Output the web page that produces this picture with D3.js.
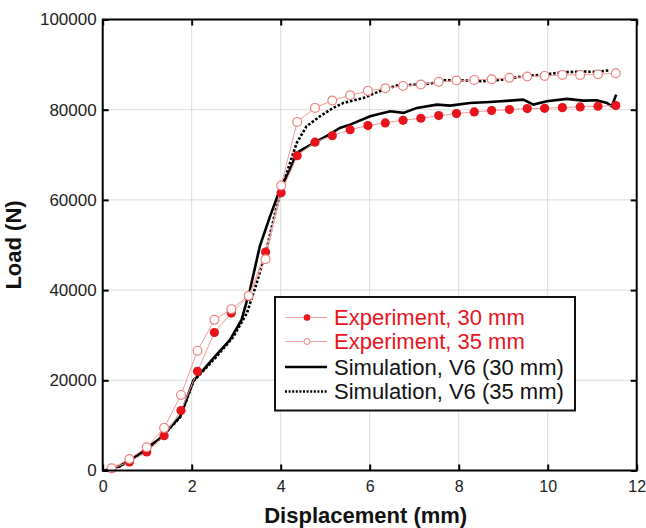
<!DOCTYPE html>
<html>
<head>
<meta charset="utf-8">
<script src="https://cdn.jsdelivr.net/npm/d3@7"></script>
<style>
  body { margin: 0; background: #fff; }
  svg { display: block; font-family: "Liberation Sans", Arial, sans-serif; }
</style>
</head>
<body>
<div id="chart"></div>
<script>
// experiment sample positions (mm), shared by both specimens
const dispExp = [0.2, 0.6, 0.99, 1.38, 1.76, 2.13, 2.51, 2.89, 3.28, 3.66, 4.01, 4.37, 4.77, 5.16, 5.56,
  5.96, 6.35, 6.75, 7.15, 7.55, 7.95, 8.35, 8.74, 9.14, 9.54, 9.93, 10.33, 10.73, 11.13, 11.53];
const load30 = [400, 1900, 4100, 7700, 13300, 22000, 30600, 34900, 38600, 48450, 61600, 69800, 72800, 74250, 75580,
  76470, 77070, 77650, 78100, 78690, 79140, 79510, 79800, 80020, 80240, 80310, 80460, 80620, 80760, 80910];
const load35 = [500, 2550, 5150, 9450, 16760, 26570, 33400, 35780, 38750, 46850, 63200, 77300, 80400, 82050, 83200,
  84170, 84760, 85280, 85570, 86170, 86460, 86610, 86750, 87060, 87350, 87500, 87720, 87720, 87860, 88080];

// simulation curves
const sim30X = [0.05, 0.39, 0.84, 1.29, 1.74, 2.04, 2.26, 2.49, 2.86, 3.12, 3.31, 3.53, 3.76, 3.98, 4.21, 4.36, 4.51,
  4.81, 5.11, 5.33, 5.56, 6.01, 6.46, 6.76, 7.06, 7.51, 7.81, 8.25, 8.70, 9.15, 9.45, 9.68, 9.98, 10.43, 10.80,
  11.10, 11.33, 11.44, 11.54];
const sim30Y = [0, 1000, 3800, 7150, 11950, 20000, 22300, 24900, 28970, 33400, 40070, 49680, 56340, 62260, 66700,
  70400, 71300, 72980, 74600, 75960, 76690, 78530, 79650, 79290, 80400, 81130, 80910, 81500, 81720, 82020, 82240,
  81130, 81870, 82390, 82020, 82090, 81500, 80760, 83350];
const sim35X = [0.05, 0.39, 0.84, 1.29, 1.74, 2.04, 2.26, 2.56, 2.94, 3.24, 3.46, 3.68, 3.91, 4.06, 4.21, 4.36, 4.58,
  4.88, 5.18, 5.41, 5.86, 6.31, 6.61, 7.06, 7.36, 7.65, 8.10, 8.55, 9.00, 9.45, 9.90, 10.35, 10.80, 11.10, 11.40];
const sim35Y = [0, 950, 3700, 7050, 11800, 19800, 22100, 25260, 29700, 34890, 41550, 48950, 58560, 63750, 68190,
  72630, 76310, 78530, 80400, 81500, 82610, 84460, 85340, 85570, 85790, 86530, 86530, 86310, 86680, 87420, 87790,
  88300, 88460, 88380, 88750];

const xTicks = [0, 2, 4, 6, 8, 10, 12];
const yTicks = [0, 20000, 40000, 60000, 80000, 100000];
const legendLabels = ["Experiment, 30 mm", "Experiment, 35 mm", "Simulation, V6 (30 mm)", "Simulation, V6 (35 mm)"];

const W = 646, H = 528;
const pLeft = 102.7, pRight = 636.7, pTop = 19.5, pBottom = 470.5;
const red = "#e8141c", pink = "#f29b9b";

const svg = d3.select("#chart").append("svg").attr("width", W).attr("height", H);

const x = d3.scaleLinear().domain([0, 12]).range([pLeft, pRight]);
const y = d3.scaleLinear().domain([0, 100000]).range([pBottom, pTop]);

// grid
const grid = svg.append("g").attr("stroke", "#dcdcdc").attr("stroke-width", 1);
grid.selectAll(".gx").data(xTicks.slice(1, -1)).enter().append("line")
  .attr("x1", d => x(d)).attr("x2", d => x(d)).attr("y1", pTop).attr("y2", pBottom);
grid.selectAll(".gy").data(yTicks.slice(1, -1)).enter().append("line")
  .attr("y1", d => y(d)).attr("y2", d => y(d)).attr("x1", pLeft).attr("x2", pRight);

// axes, ticks pointing inward
const xAxis = d3.axisBottom(x).tickValues(xTicks).tickSize(-6).tickPadding(10.5).tickFormat(d3.format("d"));
const yAxis = d3.axisLeft(y).tickValues(yTicks).tickSize(-6).tickPadding(6).tickFormat(d3.format("d"));

const gx = svg.append("g").attr("transform", `translate(0,${pBottom})`).call(xAxis);
const gy = svg.append("g").attr("transform", `translate(${pLeft},0)`).call(yAxis);
const gt = svg.append("g").attr("transform", `translate(0,${pTop})`)
  .call(d3.axisTop(x).tickValues(xTicks).tickSize(-6).tickFormat(""));
const gr = svg.append("g").attr("transform", `translate(${pRight},0)`)
  .call(d3.axisRight(y).tickValues(yTicks).tickSize(-6).tickFormat(""));

[gx, gy, gt, gr].forEach(g => {
  g.select(".domain").remove();
  g.selectAll(".tick line").attr("stroke", "#000").attr("stroke-width", 2);
});
gx.selectAll("text").attr("font-size", 16).attr("fill", "#222").attr("font-family", "Liberation Sans, Arial, sans-serif");
gy.selectAll("text").attr("font-size", 17).attr("fill", "#222").attr("font-family", "Liberation Sans, Arial, sans-serif");

// simulation curves
const simLine = d3.line().x(d => x(d[0])).y(d => y(d[1]));
svg.append("path").datum(sim35X.map((v, i) => [v, sim35Y[i]]))
  .attr("d", simLine).attr("fill", "none").attr("stroke", "#000")
  .attr("stroke-width", 2.6).attr("stroke-dasharray", "2.6,1.8");
svg.append("path").datum(sim30X.map((v, i) => [v, sim30Y[i]]))
  .attr("d", simLine).attr("fill", "none").attr("stroke", "#000").attr("stroke-width", 2.6);

// experiments
const exp30 = dispExp.map((v, i) => [v, load30[i]]);
const exp35 = dispExp.map((v, i) => [v, load35[i]]);
svg.append("path").datum(exp30).attr("d", simLine).attr("fill", "none").attr("stroke", pink).attr("stroke-width", 1);
svg.append("path").datum(exp35).attr("d", simLine).attr("fill", "none").attr("stroke", pink).attr("stroke-width", 1);

svg.append("g").selectAll("circle").data(exp30).enter().append("circle")
  .attr("cx", d => x(d[0])).attr("cy", d => y(d[1])).attr("r", 4.6).attr("fill", red);
svg.append("g").selectAll("circle").data(exp35).enter().append("circle")
  .attr("cx", d => x(d[0])).attr("cy", d => y(d[1])).attr("r", 4.4)
  .attr("fill", "#fff").attr("stroke", "#ee7f7f").attr("stroke-width", 1.2);

// frame
svg.append("rect").attr("x", pLeft).attr("y", pTop).attr("width", pRight - pLeft).attr("height", pBottom - pTop)
  .attr("fill", "none").attr("stroke", "#000").attr("stroke-width", 2);

// axis titles
svg.append("text").attr("x", (pLeft + pRight) / 2 - 4).attr("y", 523).attr("text-anchor", "middle")
  .attr("font-size", 22).attr("font-weight", "bold").attr("fill", "#111").text("Displacement (mm)");
svg.append("text").attr("transform", `translate(21,${(pTop + pBottom) / 2}) rotate(-90)`).attr("text-anchor", "middle")
  .attr("font-size", 22).attr("font-weight", "bold").attr("fill", "#111").text("Load (N)");

// legend
const lg = svg.append("g");
lg.append("rect").attr("x", 275).attr("y", 297).attr("width", 300).attr("height", 113.5)
  .attr("fill", "#fff").attr("stroke", "#111").attr("stroke-width", 2);
const rowY = [317.5, 341.5, 367, 391.5];
legendLabels.forEach((lab, i) => {
  const ly = rowY[i];
  const ln = lg.append("line").attr("x1", 285).attr("x2", 327).attr("y1", ly).attr("y2", ly);
  if (i < 2) ln.attr("stroke", pink).attr("stroke-width", 1);
  else ln.attr("stroke", "#000").attr("stroke-width", 2.4);
  if (i === 3) ln.attr("stroke-dasharray", "2,1.6");
  if (i === 0) lg.append("circle").attr("cx", 307).attr("cy", ly).attr("r", 3.3).attr("fill", red);
  if (i === 1) lg.append("circle").attr("cx", 307).attr("cy", ly).attr("r", 3)
    .attr("fill", "#fff").attr("stroke", "#ee7f7f").attr("stroke-width", 1);
  lg.append("text").attr("x", 334).attr("y", ly).attr("dy", "0.36em")
    .attr("font-size", 22).attr("fill", i < 2 ? red : "#111").text(lab);
});
</script>
</body>
</html>
